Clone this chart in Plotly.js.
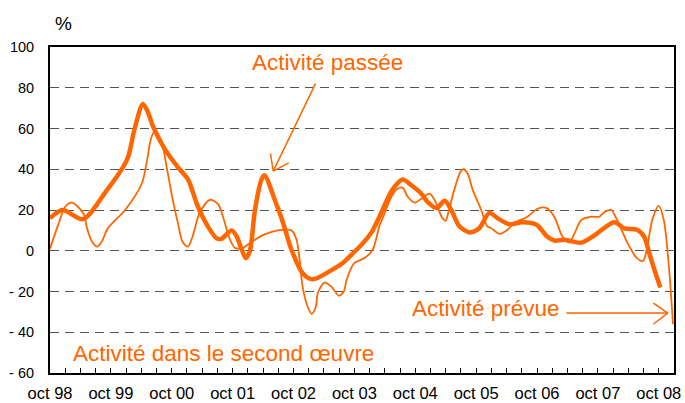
<!DOCTYPE html>
<html>
<head>
<meta charset="utf-8">
<script src="https://cdn.plot.ly/plotly-3.0.1.min.js"></script>
<style>
html,body{margin:0;padding:0;background:#fff;}
#chart{width:685px;height:403px;}
</style>
</head>
<body>
<div id="chart"></div>
<script>
// months since October 1998
const passeeMonths = [0,2.5,6.5,11,14.4,15.4,16.7,18.3,19.3,20.3,22.6,25.2,27.2,29.1,31.1,32.9,33.9,35.8,36.8,37.8,38.6,39.4,40.4,41.7,42.3,44.3,45.9,47.6,49.8,51.8,55.5,57.7,59.4,61.6,63.5,65,67.5,69.5,71.3,73.2,74.4,76.2,77.8,79.1,80.7,82.7,84.6,86.6,88.2,90.6,93.1,95.9,98,99.4,101.4,104.7,107.3,111.2,113.2,115.7,117.1,118.1,119.1,120.3];
const passeeValues = [16,20,15.5,29,41,46,60,72,68,61,50,41,35,22,12,6,6,10,7,0.5,-3.6,0,20,35,37,25,14,0.5,-11,-14,-9.5,-6,-2,3.5,9.5,17,30,35,32,28,24,21,24.5,20,12,9,11,18.6,16,13,14,12.8,7,5,5.4,4,7.5,14,11,10.3,7,-1,-9,-18];

const prevueMonths = [0,1.6,3,4.3,5.5,6.7,7.3,8.3,9.3,10.2,11.4,14.8,18.1,19.1,19.9,20.7,22,23,24.2,25.2,26.2,27.2,28.1,29.5,31.5,33.1,34.1,35.4,36.4,37.8,38.4,40.4,42.3,44.9,47.6,48.6,49.2,49.8,50.8,51.6,52.4,52.8,54.1,55.5,56.9,57.9,58.5,60,62,63.6,65,65.4,67.3,68.5,69.5,70.5,71.9,73.2,74.8,75.8,77.2,78,78.5,79.7,80.9,81.5,82.3,83.3,85,86.2,87,88.6,90.2,91.5,94.1,96.1,97.8,99.4,101,102.4,103.3,104.7,106.7,108.3,109.3,110.6,111.8,113.8,115.6,116.9,117.7,118.7,120,121,122,122.8];
const prevueValues = [1,12.7,21.6,23.6,21.6,17.7,11,4.4,2,4.4,11,20,33,44,55,59,53.5,41,25,13.7,4,2,7,18.6,25,23,16.7,6,1.5,1,2,5.4,8,10,10,5.4,-4.4,-17.7,-27.5,-31,-27.5,-20.6,-15.7,-17.7,-22,-20,-14,-6,-3.6,0.5,12.8,15,26.5,30.4,31,26.5,23.6,25.5,28,25,16.7,14.7,18.6,30,38.8,40,38,30,20,12,11,8.3,10.3,13.7,16.7,20.6,21,16.7,7,4,8,15,16.7,16.7,19,20,15,4,-3.4,-5,1.5,15,22,15,-8,-36];

const tickMonths = [0,12,24,36,48,60,72,84,96,108,120];
const tickLabels = ['oct 98','oct 99','oct 00','oct 01','oct 02','oct 03','oct 04','oct 05','oct 06','oct 07','oct 08'];
const yTickVals = [-60,-40,-20,0,20,40,60,80,100];
const yTickLabels = ['- 60','- 40','- 20','0','20','40','60','80','100'];

const orange = '#FF6600';
const font = 'Liberation Sans, Arial, sans-serif';

const traces = [
  {x: passeeMonths, y: passeeValues, type:'scatter', mode:'lines',
   line:{color:orange, width:4.5, shape:'spline', smoothing:0.8}, name:'Activité passée'},
  {x: prevueMonths, y: prevueValues, type:'scatter', mode:'lines',
   line:{color:orange, width:1.8, shape:'spline', smoothing:0.8}, name:'Activité prévue'}
];

// arrow helper: a headless line from an offset to the tip
function arrowLine(x, y, ax, ay) {
  return {x:x, y:y, text:'', showarrow:true, ax:ax, ay:ay, arrowhead:0,
          arrowwidth:1.5, arrowcolor:orange, standoff:0, startstandoff:0};
}

const layout = {
  width:685, height:403,
  margin:{l:50, r:11, t:47, b:30},
  paper_bgcolor:'#fff', plot_bgcolor:'#fff',
  showlegend:false,
  font:{family:font, size:14, color:'#000'},
  xaxis:{
    range:[0,123], tickmode:'array', tickvals:tickMonths, ticktext:tickLabels,
    ticks:'inside', ticklen:5, tickcolor:'#000', tickwidth:1,
    minor:{tickmode:'linear', tick0:0, dtick:3, ticks:'inside', ticklen:5, tickcolor:'#000', tickwidth:1},
    showline:true, linecolor:'#000', linewidth:2, mirror:true,
    showgrid:false, zeroline:false, ticklabelstandoff:4,
    tickfont:{family:font, size:16.5, color:'#000'}
  },
  yaxis:{
    range:[-60,100], tickmode:'array', tickvals:yTickVals, ticktext:yTickLabels,
    ticks:'', showline:true, linecolor:'#000', linewidth:2, mirror:true,
    showgrid:true, gridcolor:'#555', gridwidth:1, griddash:'9px,6px',
    zeroline:false, ticklabelstandoff:11,
    tickfont:{family:font, size:14.5, color:'#000'}
  },
  annotations:[
    {xref:'paper', yref:'paper', x:0.022, y:1.072, text:'%', showarrow:false,
     xanchor:'center', yanchor:'middle', font:{family:font, size:19, color:'#000'}},
    {x:54.6, y:92.6, text:'Activité passée', showarrow:false, xanchor:'center', yanchor:'middle',
     font:{family:font, size:22.5, color:orange}},
    arrowLine(44.0, 39.1, 43, -89),
    arrowLine(44.0, 39.1, -3, -19),
    arrowLine(44.0, 39.1, 17, -9),
    {x:85.9, y:-28.1, text:'Activité prévue', showarrow:false, xanchor:'center', yanchor:'middle',
     font:{family:font, size:22.5, color:orange}},
    arrowLine(121.8, -30.6, -103, 0),
    arrowLine(121.8, -30.6, -16, -11),
    arrowLine(121.8, -30.6, -16, 12),
    {x:34.2, y:-50.2, text:'Activité dans le second œuvre', showarrow:false, xanchor:'center', yanchor:'middle',
     font:{family:font, size:22.5, color:orange}}
  ]
};

Plotly.newPlot('chart', traces, layout, {staticPlot:true, displayModeBar:false});
</script>
</body>
</html>
